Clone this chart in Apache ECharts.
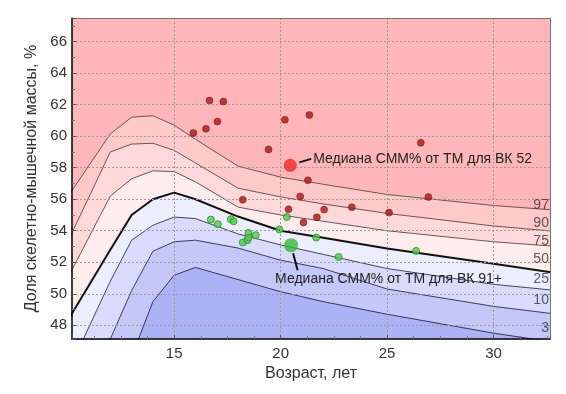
<!DOCTYPE html>
<html>
<head>
<meta charset="utf-8">
<script src="https://cdn.jsdelivr.net/npm/echarts@6/dist/echarts.min.js"></script>
<style>
  html, body { margin: 0; padding: 0; background: #fff; }
  #chart { width: 566px; height: 394px; }
</style>
</head>
<body>
<div id="chart"></div>
<script>
// Age grid (years) on which the percentile curves are defined
const ages = [10, 12, 13, 14, 15, 16, 18, 20, 22, 25, 30, 33];

// Percentile curves of skeletal-muscle share, %
const p97 = [56.15, 60.15, 61.2, 61.3, 60.7, 59.8, 58.1, 57.4, 56.95, 56.3, 55.6, 55.3];
const p90 = [53.3, 59.0, 59.5, 59.55, 59.1, 58.3, 56.7, 56.15, 55.7, 55.1, 54.3, 53.95];
const p75 = [51.0, 56.2, 57.3, 57.8, 57.75, 57.1, 55.5, 55.0, 54.6, 54.0, 53.3, 53.0];
const p50 = [48.3, 52.8, 55.0, 56.0, 56.42, 56.0, 54.9, 54.0, 53.55, 52.87, 51.9, 51.3];
const p25 = [45.0, 50.8, 53.4, 54.35, 54.87, 54.77, 53.8, 53.1, 52.5, 51.6, 50.6, 50.2];
const p10 = [42.0, 47.13, 50.2, 52.7, 53.3, 53.4, 52.9, 52.13, 51.6, 50.3, 49.2, 48.7];
const p3  = [37.0, 42.5, 46.0, 49.5, 51.18, 51.67, 50.9, 50.13, 49.5, 48.7, 47.5, 46.9];

// Percentile names written at the right end of the curves, and their heights
const pctNames = ['97', '90', '75', '50', '25', '10', '3'];
const pctNameY = [55.61, 54.49, 53.34, 52.22, 50.91, 49.6, 47.85];
const pctNameX = 32.6;

// Group "ВК 52"
const redAge = [15.9, 16.49, 16.66, 17.03, 17.31, 18.22, 19.43, 20.2, 20.37, 20.92, 21.07, 21.28, 21.35, 21.7, 22.04, 23.34, 25.09, 26.58, 26.94];
const redVal = [60.2, 60.47, 62.26, 60.93, 62.2, 55.97, 59.16, 61.04, 55.36, 56.18, 54.52, 57.2, 61.35, 54.85, 55.34, 55.49, 55.15, 59.58, 56.14];
const redMedian = [20.45, 58.15];
const redMedianText = 'Медиана СММ% от ТМ для ВК 52';

// Group "ВК 91+"
const greenAge = [16.72, 17.05, 17.66, 17.79, 18.22, 18.44, 18.49, 18.49, 18.83, 19.94, 20.29, 21.67, 22.72, 26.36];
const greenVal = [54.71, 54.41, 54.73, 54.6, 53.25, 53.4, 53.86, 53.57, 53.72, 54.08, 54.87, 53.57, 52.34, 52.72];
const greenMedian = [20.49, 53.08];
const greenMedianText = 'Медиана СММ% от ТМ для ВК 91+';

const xName = 'Возраст, лет';
const yName = 'Доля скелетно-мышечной массы, %';

const FONT = "'Liberation Sans', Arial, sans-serif";
const pair = (xs, ys) => xs.map((x, i) => [x, ys[i]]);

// Fill below each curve; drawn top-down so each band keeps its own tint
const curves = [
  { v: p97, fill: '#ffc8c9', line: '#6a5656', w: 1 },
  { v: p90, fill: '#ffd9da', line: '#6a5656', w: 1 },
  { v: p75, fill: '#ffecec', line: '#6a5656', w: 1 },
  { v: p50, fill: '#eceefe', line: '#111111', w: 2 },
  { v: p25, fill: '#d8dbfc', line: '#44445e', w: 1 },
  { v: p10, fill: '#c4c8f9', line: '#3c3c5a', w: 1 },
  { v: p3,  fill: '#adb2f6', line: '#34345a', w: 1 }
];

const X_MIN = 10.2, X_MAX = 32.65, Y_MIN = 47.13, Y_MAX = 67.5;

const chart = echarts.init(document.getElementById('chart'), null, { renderer: 'canvas' });

const series = curves.map(c => ({
  type: 'line',
  data: pair(ages, c.v),
  symbol: 'none',
  clip: true,
  z: 1,
  lineStyle: { color: c.line, width: c.w },
  areaStyle: { color: c.fill, opacity: 1, origin: 'start' },
  silent: true
}));

series.push({
  type: 'scatter',
  data: pair(redAge, redVal),
  symbolSize: 7,
  z: 6,
  itemStyle: { color: '#a81818', borderColor: '#7a0d0d', borderWidth: 0.6 }
});
series.push({
  type: 'scatter',
  data: pair(greenAge, greenVal),
  symbolSize: 7,
  z: 6,
  itemStyle: { color: '#52cc4c', borderColor: '#2c8f2c', borderWidth: 1 }
});
series.push({
  type: 'scatter',
  data: [redMedian],
  symbolSize: 13,
  z: 7,
  itemStyle: { color: '#ee2a2a' }
});
series.push({
  type: 'scatter',
  data: [greenMedian],
  symbolSize: 14,
  z: 7,
  itemStyle: { color: '#35b835' }
});
series.push({
  type: 'scatter',
  data: pctNameY.map((y, i) => ({ value: [pctNameX, y], name: pctNames[i] })),
  symbolSize: 0,
  z: 8,
  label: {
    show: true,
    position: 'inside',
    align: 'right',
    verticalAlign: 'middle',
    formatter: p => p.name,
    fontFamily: FONT,
    fontSize: 14,
    color: '#333'
  }
});

const gridDash = { show: true, showMinLine: false, showMaxLine: false,
  lineStyle: { color: '#9a9a9a', type: [2, 2], width: 1 } };

chart.setOption({
  animation: false,
  backgroundColor: '#ffffff',
  grid: { left: 72, right: 16, top: 18, bottom: 55, show: true,
    backgroundColor: '#ffb6b8', borderWidth: 0 },
  xAxis: [{
    type: 'value', min: X_MIN, max: X_MAX, minInterval: 5, maxInterval: 5,
    z: 3,
    name: xName, nameLocation: 'middle', nameGap: 24,
    nameTextStyle: { fontFamily: FONT, fontSize: 16, color: '#333' },
    axisLine: { show: true, onZero: false, lineStyle: { color: '#000', width: 1.5 } },
    axisTick: { show: true, inside: true, length: 4, lineStyle: { color: '#555' } },
    minorTick: { show: true, splitNumber: 4, length: 3, lineStyle: { color: '#777' } },
    axisLabel: { showMinLabel: false, showMaxLabel: false, margin: 7,
      fontFamily: FONT, fontSize: 15, color: '#333' },
    splitLine: gridDash
  }, {
    type: 'value', min: X_MIN, max: X_MAX, position: 'top', z: 3,
    axisLine: { show: true, onZero: false, lineStyle: { color: '#777', width: 1 } },
    axisTick: { show: false }, axisLabel: { show: false }, splitLine: { show: false }
  }],
  yAxis: [{
    type: 'value', min: Y_MIN, max: Y_MAX, minInterval: 2, maxInterval: 2,
    z: 3,
    name: yName, nameLocation: 'middle', nameGap: 29,
    nameTextStyle: { fontFamily: FONT, fontSize: 16, color: '#333' },
    axisLine: { show: true, onZero: false, lineStyle: { color: '#000', width: 1.5 } },
    axisTick: { show: true, inside: true, length: 4, lineStyle: { color: '#555' } },
    minorTick: { show: true, splitNumber: 2, length: 3, lineStyle: { color: '#777' } },
    axisLabel: { showMinLabel: false, showMaxLabel: false, margin: 5,
      fontFamily: FONT, fontSize: 15, color: '#333' },
    splitLine: gridDash
  }, {
    type: 'value', min: Y_MIN, max: Y_MAX, position: 'right', z: 3,
    axisLine: { show: true, onZero: false, lineStyle: { color: '#777', width: 1 } },
    axisTick: { show: false }, axisLabel: { show: false }, splitLine: { show: false }
  }],
  series: series
});

// Callouts for the two medians, anchored to their plotted positions
const rp = chart.convertToPixel({ gridIndex: 0 }, redMedian);
const gp = chart.convertToPixel({ gridIndex: 0 }, greenMedian);
const textStyle = { fontFamily: FONT, fontSize: 14, fill: '#222' };
chart.setOption({
  graphic: [
    { type: 'line', z: 20, shape: { x1: rp[0] + 9, y1: rp[1] - 3, x2: rp[0] + 21, y2: rp[1] - 6.5 },
      style: { stroke: '#111', lineWidth: 2 } },
    { type: 'text', z: 20, x: rp[0] + 23, y: rp[1] - 6,
      style: Object.assign({ text: redMedianText, verticalAlign: 'middle' }, textStyle) },
    { type: 'line', z: 20, shape: { x1: gp[0] + 2, y1: gp[1] + 8, x2: gp[0] + 6.5, y2: gp[1] + 25 },
      style: { stroke: '#111', lineWidth: 2 } },
    { type: 'text', z: 20, x: gp[0] - 16, y: gp[1] + 34,
      style: Object.assign({ text: greenMedianText, verticalAlign: 'middle' }, textStyle) }
  ]
});
</script>
</body>
</html>
